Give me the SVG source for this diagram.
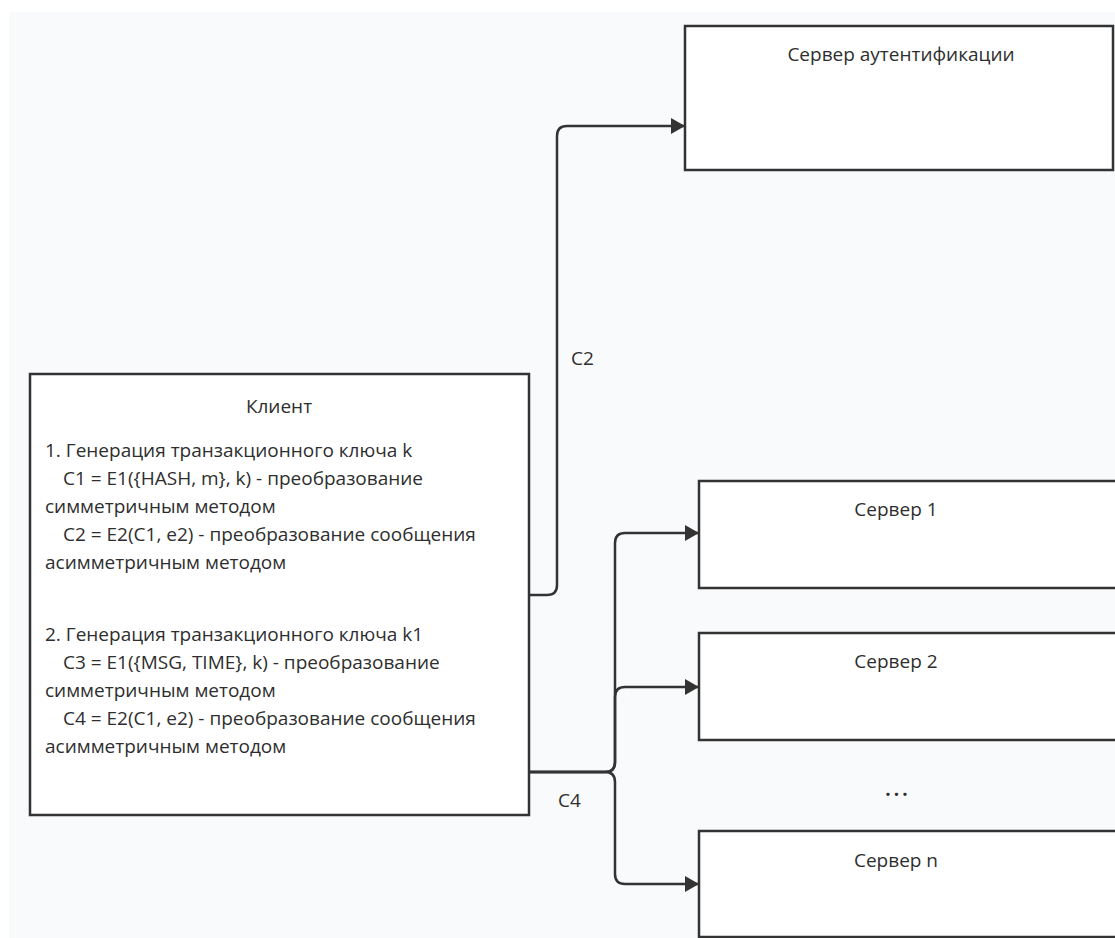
<svg xmlns="http://www.w3.org/2000/svg" width="1115" height="938" viewBox="0 0 1115 938">
<defs>
<style>
.box{fill:#ffffff;stroke:#333333;stroke-width:2.5}
.t{font-family:"Open Sans","Noto Sans","Liberation Sans",sans-serif;font-size:19px;fill:#2e2e2e}
.c{text-anchor:middle}
.edge{fill:none;stroke:#333333;stroke-width:2.5}
</style>
<marker id="arr" viewBox="0 0 14 16" refX="14" refY="8" markerWidth="14" markerHeight="16" markerUnits="userSpaceOnUse" orient="auto">
<path d="M0,0 L14,8 L0,16 Z" fill="#333333"/>
</marker>
</defs>
<rect x="0" y="0" width="1115" height="938" fill="#ffffff"/>
<rect x="9" y="12" width="1106" height="926" fill="#f9fafb"/>
<g id="connectors">
<path class="edge" d="M529,595 H547 Q557,595 557,585 V136 Q557,126 567,126 H685" marker-end="url(#arr)"/>
<path class="edge" d="M529,772 H605 Q615,772 615,762 V543 Q615,533 625,533 H699" marker-end="url(#arr)"/>
<path class="edge" d="M529,772 H605 Q615,772 615,762 V697 Q615,687 625,687 H699" marker-end="url(#arr)"/>
<path class="edge" d="M529,772 H605 Q615,772 615,782 V874 Q615,884 625,884 H699" marker-end="url(#arr)"/>
<text class="t" x="571" y="365">C2</text>
<text class="t" x="558" y="807">C4</text>
</g>
<g id="client">
<rect class="box" x="30" y="374" width="499" height="441"/>
<text class="t c" x="279" y="413">Клиент</text>
<text class="t" x="45" y="457">1. Генерация транзакционного ключа k</text>
<text class="t" x="63" y="485">C1 = E1({HASH, m}, k) - преобразование</text>
<text class="t" x="45" y="513">симметричным методом</text>
<text class="t" x="63" y="541">C2 = E2(C1, e2) - преобразование сообщения</text>
<text class="t" x="45" y="569">асимметричным методом</text>
<text class="t" x="45" y="641">2. Генерация транзакционного ключа k1</text>
<text class="t" x="63" y="669">C3 = E1({MSG, TIME}, k) - преобразование</text>
<text class="t" x="45" y="697">симметричным методом</text>
<text class="t" x="63" y="725">C4 = E2(C1, e2) - преобразование сообщения</text>
<text class="t" x="45" y="753">асимметричным методом</text>
</g>
<g id="auth-server">
<rect class="box" x="685" y="26" width="428" height="144"/>
<text class="t c" x="901" y="61">Сервер аутентификации</text>
</g>
<g id="server-1">
<rect class="box" x="699" y="481" width="430" height="107"/>
<text class="t c" x="896" y="516">Сервер 1</text>
</g>
<g id="server-2">
<rect class="box" x="699" y="633" width="430" height="107"/>
<text class="t c" x="896" y="668">Сервер 2</text>
</g>
<g id="ellipsis">
<text class="t c" x="898" y="796" letter-spacing="3" font-weight="bold">...</text>
</g>
<g id="server-n">
<rect class="box" x="699" y="831" width="430" height="106"/>
<text class="t c" x="896" y="867">Сервер n</text>
</g>
</svg>
